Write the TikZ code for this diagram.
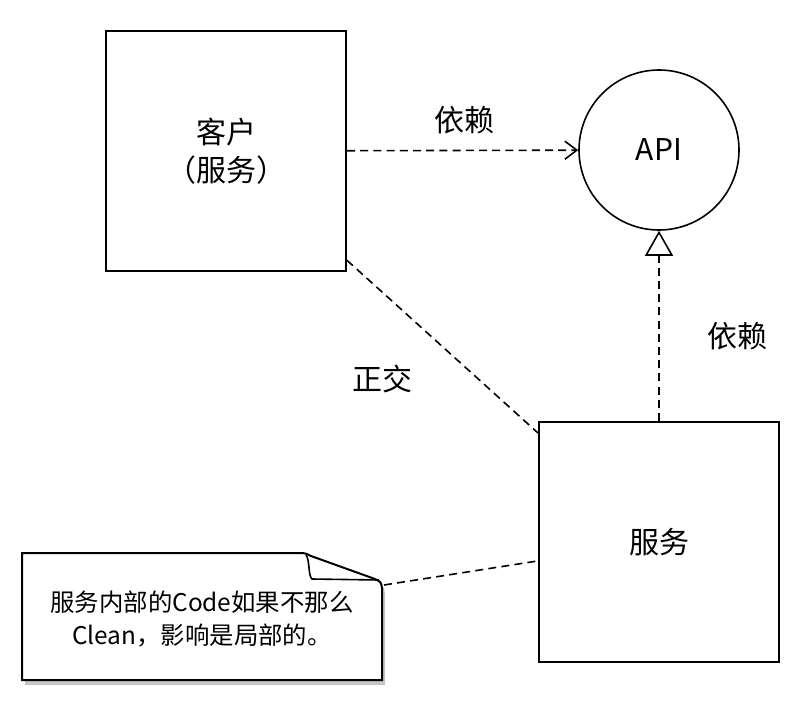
\documentclass[tikz,border=0pt]{standalone}
\usepackage{fontspec}
\setmainfont{Noto Sans CJK SC}
\usepackage{tikz}
\usetikzlibrary{arrows.meta,%
                shadows}

\begin{document}
\begin{tikzpicture}[x=0.5pt,y=-0.5pt]
  \tikzstyle{BoxStyle}=[draw,line width=1pt,minimum width=120pt,minimum height=120pt,font=\fontsize{15}{19}\selectfont]
  \tikzstyle{LabelStyle}=[font=\fontsize{15}{18}\selectfont]
  \tikzstyle{DepStyle}=[dashed,dash pattern=on 4pt off 2.6pt,line width=0.8pt]
  \useasboundingbox (0,0) rectangle (798,712);
  \node[BoxStyle,align=center] (client) at (226,151) {客户\\（服务）};
  \node[draw,circle,line width=0.8pt,minimum size=80pt,font=\fontsize{15}{18}\selectfont] (api) at (659,150) {API};
  \node[BoxStyle] (svc) at (659,542) {服务};
  % note
  \draw[line width=1pt,fill=white,drop shadow={shadow xshift=1.5pt,shadow yshift=-2.5pt,opacity=0.45}]
    (22,553) -- (298,553) .. controls (305,553) .. (311,556) -- (375,579)
    .. controls (381,582) .. (382,588) -- (382,680) -- (22,680) -- cycle;
  \draw[line width=0.8pt] (306,555) .. controls (310,560) and (308,576) .. (312,579) -- (379,580);
  \node[align=center,font=\fontsize{12.2}{16.5}\selectfont] (memo) at (202,619) {服务内部的Code如果不那么\\Clean，影响是局部的。};
  \coordinate (memotip) at (384,585);
  % labels
  \node[LabelStyle] (dep1) at (464,120) {依赖};
  \node[LabelStyle] (dep2) at (737,336) {依赖};
  \node[LabelStyle] (ortho) at (382,379) {正交};
  % edges
  \draw[DepStyle,-{Straight Barb[length=6pt,width=9pt]}] (client) -- (api);
  \draw[DepStyle,-{Triangle[open,length=12.5pt,width=14pt,line width=0.8pt]}] (svc) -- (api);
  \draw[DepStyle] (client) -- (svc);
  \draw[DepStyle] (memotip) -- (svc);
\end{tikzpicture}
\end{document}
